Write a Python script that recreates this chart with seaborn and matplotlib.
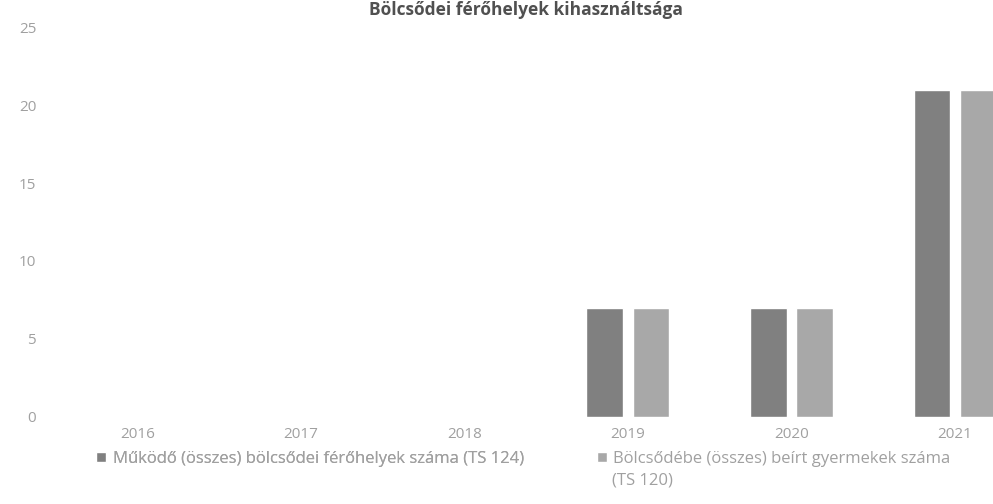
import pandas as pd
import matplotlib.pyplot as plt
import seaborn as sns

# Bölcsődei adatok évenként
years = ["2016", "2017", "2018", "2019", "2020", "2021"]
ferohelyek = [0, 0, 0, 7, 7, 21]
beirt_gyermekek = [0, 0, 0, 7, 7, 21]
series_names = [
    "Működő (összes) bölcsődei férőhelyek száma (TS 124)",
    "Bölcsődébe (összes) beírt gyermekek száma",
]
series2_tail = "(TS 120)"

df = pd.DataFrame({
    "ev": years * 2,
    "ertek": ferohelyek + beirt_gyermekek,
    "sorozat": [series_names[0]] * len(years) + [series_names[1]] * len(years),
})

sns.set_style("white")
plt.rcParams["font.family"] = ["Open Sans", "DejaVu Sans"]

fig = plt.figure(figsize=(9.93, 5.04), dpi=100)
ax = fig.add_axes([0.056, 0.173, 0.988, 0.773])

sns.barplot(data=df, x="ev", y="ertek", hue="sorozat", order=years,
            palette=["#808080", "#a8a8a8"], width=0.563, gap=0.2,
            ax=ax, legend=True)

ax.set_ylim(0, 25)
ax.set_yticks([0, 5, 10, 15, 20, 25])
ax.set_xlabel("")
ax.set_ylabel("")
sns.despine(ax=ax, left=True, bottom=True)
ax.tick_params(axis="both", length=0, colors="#a0a0a0", labelsize=11)
ax.tick_params(axis="y", pad=14)
ax.tick_params(axis="x", pad=7)

handles, labels = ax.get_legend_handles_labels()
ax.get_legend().remove()

# two separate legend entries so both start on the same line
leg_kw = dict(loc="upper left", frameon=False, fontsize=12,
              labelcolor="#a0a0a0", handlelength=0.6, handleheight=0.6,
              handletextpad=0.4, borderaxespad=0, borderpad=0)
leg1 = fig.legend([handles[0]], [labels[0]], bbox_to_anchor=(0.097, 0.105), **leg_kw)
fig.add_artist(leg1)
fig.legend([handles[1]], [labels[1]], bbox_to_anchor=(0.601, 0.105), **leg_kw)
fig.text(0.616, 0.062, series2_tail, ha="left", va="top", fontsize=12,
         color="#a0a0a0")

fig.text(0.53, 0.998, "Bölcsődei férőhelyek kihasználtsága", ha="center",
         va="top", fontsize=12.5, fontweight="bold", color="#505050")

fig.savefig("out.png", dpi=100)
